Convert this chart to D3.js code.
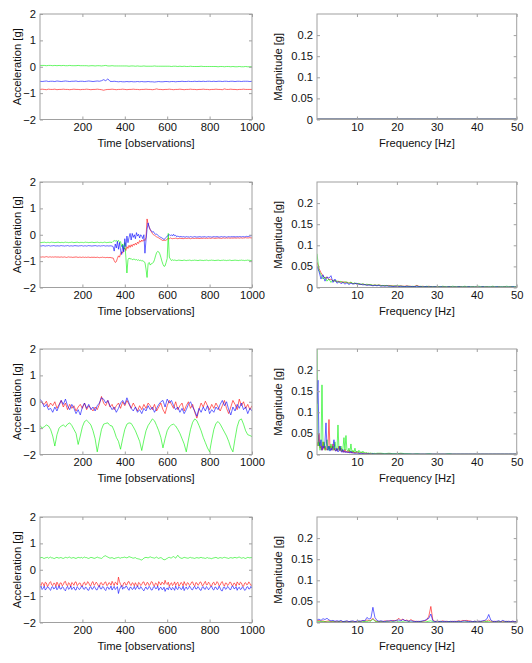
<!DOCTYPE html>
<html><head><meta charset="utf-8">
<script src="https://cdn.jsdelivr.net/npm/d3@7"></script>
<style>
body{margin:0;background:#fff}
svg{display:block}
text{font-family:"Liberation Sans",Arial,sans-serif;font-size:11.2px;fill:#111}
</style>
</head><body>
<svg id="chart" width="532" height="663"></svg>
<script>
// ---------------- DATA ----------------
const seriesColors = ["#ff0000", "#00f000", "#0000ff"]; // x, y, z axes
const timeTicks = [200, 400, 600, 800, 1000];
const accTicks = [-2, -1, 0, 1, 2];
const freqTicks = [10, 20, 30, 40, 50];
const magTicks = [0, 0.05, 0.1, 0.15, 0.2];
const timeStep = [10, 5, 10, 5]; // observations between samples, per row

// Row 1 (step 10)
const accR1 = [-0.86,-0.85,-0.86,-0.87,-0.85,-0.86,-0.86,-0.85,-0.87,-0.86,
-0.86,-0.85,-0.86,-0.86,-0.87,-0.86,-0.85,-0.86,-0.86,-0.87,
-0.86,-0.86,-0.85,-0.86,-0.87,-0.86,-0.86,-0.85,-0.86,-0.87,
-0.89,-0.87,-0.86,-0.86,-0.85,-0.86,-0.87,-0.86,-0.86,-0.85,
-0.86,-0.87,-0.86,-0.86,-0.85,-0.86,-0.86,-0.87,-0.86,-0.86,
-0.85,-0.86,-0.86,-0.87,-0.86,-0.84,-0.86,-0.86,-0.87,-0.86,
-0.86,-0.85,-0.86,-0.87,-0.86,-0.86,-0.85,-0.86,-0.87,-0.86,
-0.86,-0.85,-0.86,-0.86,-0.87,-0.86,-0.86,-0.85,-0.86,-0.86,
-0.87,-0.86,-0.86,-0.85,-0.86,-0.86,-0.87,-0.84,-0.86,-0.86,
-0.85,-0.86,-0.86,-0.87,-0.86,-0.86,-0.85,-0.86,-0.86,-0.86,-0.86];
const accG1 = [0.05,0.05,0.05,0.04,0.05,0.05,0.04,0.05,0.04,0.05,
0.04,0.05,0.04,0.04,0.05,0.04,0.04,0.04,0.05,0.04,
0.04,0.04,0.04,0.03,0.04,0.04,0.03,0.04,0.04,0.03,
0.04,0.05,0.03,0.03,0.04,0.03,0.03,0.03,0.03,0.03,
0.03,0.03,0.02,0.03,0.03,0.02,0.03,0.02,0.02,0.03,
0.02,0.02,0.02,0.02,0.03,0.02,0.02,0.02,0.02,0.02,
0.02,0.02,0.01,0.02,0.02,0.01,0.02,0.01,0.02,0.01,
0.01,0.02,0.01,0.01,0.01,0.01,0.02,0.01,0.01,0.01,
0.01,0.01,0.01,0.01,0.00,0.01,0.01,0.00,0.01,0.01,
0.00,0.01,0.00,0.00,0.01,0.00,0.00,0.01,0.00,0.00,0.00];
const accB1 = [-0.55,-0.56,-0.55,-0.54,-0.56,-0.55,-0.55,-0.56,-0.54,-0.55,
-0.56,-0.55,-0.54,-0.55,-0.56,-0.55,-0.55,-0.54,-0.56,-0.55,
-0.55,-0.56,-0.55,-0.54,-0.55,-0.56,-0.55,-0.54,-0.55,-0.53,
-0.49,-0.53,-0.46,-0.55,-0.56,-0.55,-0.56,-0.57,-0.56,-0.57,
-0.57,-0.56,-0.57,-0.56,-0.57,-0.57,-0.56,-0.57,-0.56,-0.57,
-0.57,-0.56,-0.57,-0.57,-0.58,-0.57,-0.56,-0.57,-0.57,-0.56,
-0.56,-0.57,-0.56,-0.56,-0.57,-0.56,-0.56,-0.55,-0.56,-0.56,
-0.55,-0.56,-0.56,-0.55,-0.56,-0.55,-0.56,-0.55,-0.56,-0.55,
-0.55,-0.56,-0.55,-0.56,-0.55,-0.55,-0.56,-0.55,-0.55,-0.56,
-0.55,-0.55,-0.56,-0.55,-0.55,-0.56,-0.55,-0.55,-0.55,-0.56,-0.55];

// Row 2 (step 5)
const accR2 = [-0.84,-0.85,-0.84,-0.84,-0.85,-0.84,-0.83,-0.84,-0.85,-0.84,
-0.84,-0.85,-0.84,-0.85,-0.84,-0.84,-0.85,-0.84,-0.85,-0.85,
-0.84,-0.85,-0.85,-0.84,-0.85,-0.86,-0.85,-0.84,-0.85,-0.85,
-0.85,-0.86,-0.85,-0.85,-0.84,-0.85,-0.86,-0.85,-0.85,-0.86,
-0.85,-0.85,-0.86,-0.85,-0.86,-0.85,-0.85,-0.86,-0.86,-0.85,
-0.86,-0.85,-0.86,-0.86,-0.85,-0.86,-0.87,-0.86,-0.86,-0.85,
-0.86,-0.86,-0.87,-0.86,-0.86,-0.87,-0.86,-0.87,-0.88,
-0.88,-0.98,-1.05,-1.02,-0.90,-0.80,-0.85,-0.72,-0.65,-0.70,
-0.55,-0.50,-0.60,-0.45,-0.52,-0.40,-0.48,-0.38,-0.45,-0.35,
-0.40,-0.32,-0.38,-0.28,-0.33,-0.22,-0.28,-0.20,-0.25,-0.18,
-0.22,-0.10,0.60,0.40,0.30,0.18,0.12,0.05,0.00,-0.02,
-0.05,-0.08,-0.10,-0.12,-0.15,-0.17,-0.20,-0.22,-0.20,-0.22,
-0.20,-0.18,-0.12,-0.15,-0.12,-0.14,-0.15,-0.14,
-0.14,-0.13,-0.14,-0.15,-0.14,-0.13,-0.14,-0.14,-0.15,-0.14,
-0.13,-0.14,-0.14,-0.13,-0.14,-0.15,-0.14,-0.13,-0.14,-0.14,
-0.13,-0.14,-0.13,-0.14,-0.14,-0.13,-0.14,-0.13,-0.13,-0.14,
-0.13,-0.14,-0.13,-0.13,-0.14,-0.13,-0.12,-0.13,-0.14,-0.13,
-0.13,-0.12,-0.13,-0.13,-0.14,-0.13,-0.12,-0.13,-0.13,-0.12,
-0.13,-0.12,-0.13,-0.13,-0.12,-0.13,-0.12,-0.12,-0.13,-0.12,
-0.12,-0.13,-0.12,-0.12,-0.13,-0.12,-0.12,-0.11,-0.12,-0.12,
-0.12,-0.11,-0.12,-0.12];
const accG2 = [-0.29,-0.30,-0.29,-0.29,-0.28,-0.29,-0.30,-0.29,-0.29,-0.30,
-0.29,-0.28,-0.29,-0.29,-0.30,-0.29,-0.29,-0.28,-0.29,-0.30,
-0.29,-0.29,-0.30,-0.29,-0.28,-0.29,-0.29,-0.30,-0.29,-0.29,
-0.28,-0.29,-0.30,-0.29,-0.29,-0.28,-0.29,-0.30,-0.29,-0.29,
-0.29,-0.30,-0.29,-0.28,-0.29,-0.29,-0.30,-0.29,-0.29,-0.28,
-0.29,-0.30,-0.29,-0.29,-0.28,-0.29,-0.30,-0.29,-0.29,-0.30,
-0.29,-0.28,-0.29,-0.30,-0.29,-0.29,-0.28,-0.29,-0.29,
-0.25,-0.22,-0.24,-0.22,-0.25,-0.21,-0.30,-0.26,-0.45,-0.35,
-0.55,-0.30,-0.85,-1.45,-0.95,-0.88,-0.92,-0.90,-0.95,-0.93,
-0.92,-0.96,-0.94,-0.97,-0.95,-0.98,-0.96,-1.00,-0.98,-1.02,
-1.05,-1.30,-1.62,-1.10,-1.05,-1.15,-1.10,-1.08,-1.05,-0.95,
-0.80,-0.68,-0.63,-0.65,-0.72,-0.85,-1.00,-1.12,-1.20,-1.18,
-1.05,-0.90,0.05,-0.85,-0.92,-0.98,-0.95,-0.97,
-0.96,-0.97,-0.98,-0.97,-0.96,-0.97,-0.97,-0.98,-0.97,-0.96,
-0.97,-0.98,-0.97,-0.97,-0.96,-0.97,-0.98,-0.97,-0.97,-0.96,
-0.97,-0.97,-0.98,-0.97,-0.96,-0.97,-0.97,-0.98,-0.97,-0.97,
-0.96,-0.97,-0.98,-0.97,-0.97,-0.96,-0.97,-0.97,-0.98,-0.97,
-0.97,-0.96,-0.97,-0.98,-0.97,-0.97,-0.96,-0.97,-0.97,-0.98,
-0.97,-0.97,-0.96,-0.97,-0.98,-0.97,-0.97,-0.96,-0.97,-0.97,
-0.98,-0.97,-0.97,-0.96,-0.97,-0.97,-0.98,-0.97,-0.97,-0.96,
-0.97,-0.97,-0.98,-0.97];
const accB2 = [-0.42,-0.43,-0.42,-0.41,-0.42,-0.43,-0.42,-0.42,-0.41,-0.42,
-0.43,-0.42,-0.42,-0.41,-0.42,-0.43,-0.42,-0.42,-0.43,-0.42,
-0.41,-0.42,-0.42,-0.43,-0.42,-0.42,-0.41,-0.42,-0.43,-0.42,
-0.42,-0.43,-0.42,-0.41,-0.42,-0.42,-0.43,-0.42,-0.42,-0.41,
-0.42,-0.43,-0.42,-0.42,-0.43,-0.42,-0.41,-0.42,-0.42,-0.43,
-0.42,-0.42,-0.41,-0.42,-0.43,-0.42,-0.42,-0.43,-0.42,-0.42,
-0.41,-0.42,-0.43,-0.42,-0.42,-0.43,-0.42,-0.42,-0.43,
-0.45,-0.62,-0.35,-0.50,-0.25,-0.55,-0.30,-0.60,-0.75,-0.40,
-0.65,-0.15,-0.45,-0.05,-0.30,-0.10,0.05,-0.20,0.05,-0.10,
0.00,-0.15,0.08,-0.05,0.02,-0.12,0.00,-0.05,-0.15,0.00,
-0.70,-0.20,0.20,0.45,0.28,0.20,0.15,0.10,0.12,0.05,
0.02,0.03,-0.02,-0.05,-0.08,-0.10,-0.12,-0.15,-0.18,-0.15,
-0.10,-0.05,-0.02,0.00,-0.03,0.00,-0.05,0.02,
-0.04,-0.02,-0.08,-0.05,-0.07,-0.08,-0.06,-0.09,-0.07,-0.08,
-0.09,-0.07,-0.08,-0.08,-0.09,-0.07,-0.08,-0.09,-0.08,-0.07,
-0.08,-0.09,-0.08,-0.08,-0.07,-0.09,-0.08,-0.08,-0.07,-0.08,
-0.09,-0.08,-0.07,-0.08,-0.08,-0.09,-0.08,-0.07,-0.08,-0.08,
-0.07,-0.08,-0.09,-0.08,-0.07,-0.08,-0.08,-0.07,-0.08,-0.09,
-0.08,-0.07,-0.08,-0.08,-0.07,-0.08,-0.07,-0.08,-0.08,-0.07,
-0.08,-0.07,-0.07,-0.08,-0.07,-0.07,-0.08,-0.07,-0.06,-0.07,
-0.06,-0.05,-0.04,-0.03];

// Row 3 (step 10)
const accR3 = [0.05,-0.05,-0.10,0.02,-0.20,-0.05,-0.15,0.00,-0.25,-0.10,
0.05,-0.20,-0.05,-0.30,-0.10,-0.25,-0.15,-0.35,-0.20,-0.10,
-0.25,-0.05,-0.30,-0.15,-0.25,-0.35,-0.20,-0.30,-0.10,0.20,
-0.05,-0.15,0.05,-0.20,-0.10,-0.30,-0.15,-0.05,-0.25,0.00,
-0.15,0.05,-0.10,-0.25,-0.05,-0.20,-0.35,-0.15,-0.30,-0.10,
-0.25,-0.05,-0.15,-0.30,-0.10,-0.35,-0.20,-0.05,-0.30,-0.45,
-0.15,0.05,-0.10,-0.25,0.00,-0.30,-0.15,-0.05,-0.35,-0.15,
0.00,-0.25,-0.10,-0.40,-0.62,-0.30,-0.05,-0.20,0.02,-0.15,
-0.30,-0.10,-0.25,-0.05,-0.20,-0.35,-0.15,0.05,-0.25,-0.45,
-0.20,0.05,-0.10,-0.30,0.10,-0.15,0.00,-0.25,-0.10,-0.30,-0.15];
const accG3 = [-0.90,-1.00,-0.95,-0.88,-0.92,-1.05,-1.30,-1.68,-1.25,-1.00,
-0.92,-0.88,-0.95,-0.85,-0.80,-0.90,-1.05,-1.20,-1.62,-1.30,
-0.95,-0.75,-0.70,-0.78,-0.88,-1.10,-1.40,-1.90,-1.45,-1.05,
-0.85,-0.82,-0.80,-0.90,-0.92,-1.10,-1.35,-1.50,-1.80,-1.40,
-1.05,-0.85,-0.80,-0.82,-0.95,-1.10,-1.30,-1.50,-1.85,-1.45,
-1.10,-0.90,-0.78,-0.65,-0.72,-0.90,-1.10,-1.35,-1.75,-1.40,
-1.10,-0.95,-0.88,-0.85,-0.92,-1.05,-1.20,-1.40,-1.60,-1.90,
-1.45,-1.05,-0.78,-0.65,-0.72,-0.90,-1.10,-1.35,-1.55,-1.75,
-1.90,-1.45,-1.05,-0.82,-0.75,-0.85,-1.00,-1.15,-1.30,-1.50,
-1.75,-1.90,-1.40,-0.95,-0.70,-0.65,-0.85,-1.10,-1.25,-1.28,-1.32];
const accB3 = [0.10,0.00,-0.20,-0.10,-0.30,-0.25,-0.40,-0.20,-0.35,-0.15,
0.05,-0.10,0.10,-0.15,-0.30,-0.10,-0.25,-0.45,-0.30,-0.50,
-0.20,-0.05,-0.25,-0.10,-0.30,-0.20,-0.35,-0.15,-0.05,0.15,
0.10,-0.05,0.05,-0.15,-0.30,-0.20,-0.40,-0.25,-0.05,0.05,
-0.10,0.15,-0.05,-0.25,-0.35,-0.20,-0.40,-0.30,-0.45,-0.25,
-0.35,-0.15,-0.30,-0.20,-0.40,-0.25,-0.10,0.00,0.05,-0.20,
0.10,-0.05,0.05,-0.15,-0.30,-0.20,-0.40,-0.25,-0.45,-0.30,
-0.10,0.00,-0.20,-0.35,-0.55,-0.25,-0.40,-0.20,-0.35,-0.15,
-0.45,-0.30,-0.40,-0.20,-0.30,-0.10,0.05,-0.15,0.00,-0.30,
-0.50,-0.20,-0.35,-0.10,-0.25,-0.05,-0.30,-0.20,-0.45,-0.25,-0.35];

// Row 4 (step 5)
const accR4 = [-0.55,-0.60,-0.48,-0.53,-0.62,-0.47,-0.50,-0.64,-0.58,-0.49,-0.45,-0.57,-0.60,-0.51,-0.52,-0.63,-0.47,-0.55,-0.63,-0.50,
-0.50,-0.61,-0.56,-0.46,-0.44,-0.58,-0.61,-0.49,-0.53,-0.64,-0.48,-0.52,-0.59,-0.47,-0.46,-0.60,-0.57,-0.50,-0.51,-0.62,
-0.62,-0.50,-0.47,-0.58,-0.55,-0.45,-0.50,-0.60,-0.60,-0.48,-0.45,-0.59,-0.56,-0.47,-0.52,-0.61,-0.64,-0.50,-0.49,-0.58,
-0.57,-0.48,-0.46,-0.60,-0.58,-0.49,-0.51,-0.59,-0.44,-0.52,-0.60,-0.47,-0.50,-0.58,-0.28,-0.45,-0.55,-0.63,-0.62,-0.50,
-0.48,-0.58,-0.57,-0.46,-0.45,-0.56,-0.60,-0.49,-0.52,-0.61,-0.49,-0.57,-0.63,-0.48,-0.51,-0.60,-0.56,-0.47,-0.46,-0.58,
-0.59,-0.48,-0.50,-0.60,-0.55,-0.45,-0.47,-0.59,-0.61,-0.50,-0.53,-0.62,-0.45,-0.51,-0.58,-0.47,-0.50,-0.56,-0.40,-0.52,
-0.56,-0.47,-0.63,-0.54,-0.49,-0.60,-0.55,-0.46,-0.60,-0.51,-0.47,-0.62,-0.57,-0.48,-0.52,-0.61,-0.45,-0.55,-0.60,-0.49,
-0.51,-0.60,-0.56,-0.47,-0.46,-0.58,-0.62,-0.49,-0.50,-0.59,-0.55,-0.46,-0.48,-0.60,-0.59,-0.50,-0.44,-0.57,-0.56,-0.47,
-0.52,-0.63,-0.61,-0.50,-0.47,-0.58,-0.55,-0.45,-0.50,-0.61,-0.58,-0.48,-0.45,-0.57,-0.62,-0.50,-0.51,-0.60,-0.56,-0.47,
-0.48,-0.59,-0.60,-0.50,-0.53,-0.62,-0.46,-0.52,-0.58,-0.47,-0.50,-0.61,-0.63,-0.51,-0.49,-0.57,-0.55,-0.46,-0.52,-0.60,
-0.57];
const accG4 = [0.45,0.46,0.47,0.44,0.43,0.45,0.46,0.47,0.44,0.46,0.48,0.45,0.45,0.43,0.43,0.46,0.47,0.45,0.44,0.46,
0.46,0.44,0.43,0.45,0.47,0.46,0.45,0.47,0.48,0.45,0.44,0.46,0.46,0.44,0.43,0.45,0.47,0.46,0.45,0.47,
0.44,0.46,0.48,0.46,0.46,0.44,0.43,0.45,0.47,0.46,0.45,0.43,0.44,0.46,0.48,0.46,0.45,0.44,0.43,0.46,
0.50,0.52,0.53,0.50,0.48,0.46,0.44,0.45,0.46,0.44,0.42,0.44,0.45,0.46,0.47,0.45,0.44,0.46,0.46,0.47,
0.48,0.46,0.45,0.47,0.50,0.48,0.47,0.45,0.44,0.45,0.46,0.43,0.42,0.41,0.40,0.38,0.37,0.40,0.44,0.46,
0.47,0.46,0.45,0.47,0.49,0.47,0.46,0.45,0.44,0.46,0.48,0.45,0.43,0.45,0.46,0.44,0.40,0.38,0.38,0.41,
0.43,0.46,0.47,0.45,0.45,0.48,0.50,0.47,0.44,0.50,0.55,0.49,0.46,0.44,0.43,0.45,0.47,0.46,0.45,0.44,
0.44,0.46,0.47,0.45,0.45,0.44,0.43,0.45,0.46,0.45,0.44,0.46,0.47,0.45,0.45,0.44,0.43,0.45,0.46,0.44,
0.44,0.43,0.42,0.44,0.45,0.46,0.47,0.45,0.43,0.45,0.46,0.45,0.44,0.46,0.47,0.46,0.45,0.44,0.43,0.45,
0.46,0.45,0.44,0.46,0.47,0.45,0.45,0.47,0.48,0.46,0.44,0.45,0.46,0.44,0.43,0.45,0.47,0.46,0.45,0.46,
0.46];
const accB4 = [-0.68,-0.62,-0.75,-0.70,-0.62,-0.77,-0.72,-0.65,-0.66,-0.74,-0.78,-0.66,-0.64,-0.73,-0.70,-0.63,-0.76,-0.70,-0.61,-0.73,
-0.73,-0.64,-0.67,-0.76,-0.80,-0.68,-0.63,-0.74,-0.71,-0.62,-0.75,-0.70,-0.65,-0.76,-0.77,-0.64,-0.68,-0.75,-0.72,-0.63,
-0.62,-0.73,-0.74,-0.65,-0.69,-0.77,-0.78,-0.66,-0.64,-0.74,-0.72,-0.63,-0.67,-0.76,-0.76,-0.65,-0.60,-0.72,-0.73,-0.64,
-0.66,-0.75,-0.79,-0.67,-0.65,-0.74,-0.71,-0.62,-0.77,-0.69,-0.63,-0.75,-0.70,-0.64,-0.90,-0.74,-0.66,-0.60,-0.74,-0.66,
-0.70,-0.62,-0.64,-0.73,-0.78,-0.66,-0.67,-0.75,-0.72,-0.63,-0.75,-0.68,-0.61,-0.72,-0.73,-0.64,-0.69,-0.76,-0.80,-0.70,
-0.65,-0.74,-0.72,-0.63,-0.68,-0.77,-0.76,-0.65,-0.63,-0.72,-0.71,-0.62,-0.78,-0.70,-0.66,-0.75,-0.74,-0.66,-0.82,-0.72,
-0.69,-0.76,-0.64,-0.70,-0.77,-0.67,-0.70,-0.78,-0.62,-0.72,-0.75,-0.64,-0.68,-0.75,-0.73,-0.62,-0.79,-0.70,-0.65,-0.74,
-0.71,-0.62,-0.67,-0.75,-0.76,-0.66,-0.63,-0.73,-0.72,-0.64,-0.69,-0.77,-0.78,-0.66,-0.64,-0.73,-0.74,-0.64,-0.68,-0.76,
-0.71,-0.64,-0.63,-0.74,-0.77,-0.66,-0.66,-0.75,-0.73,-0.62,-0.70,-0.79,-0.80,-0.67,-0.65,-0.74,-0.72,-0.63,-0.67,-0.75,
-0.75,-0.63,-0.62,-0.72,-0.71,-0.64,-0.78,-0.69,-0.66,-0.75,-0.73,-0.64,-0.69,-0.78,-0.76,-0.66,-0.64,-0.73,-0.72,-0.63,
-0.70];

// Spectra. Frequency grids (Hz) of the sampled magnitudes
const fftFreq1 = [0,5,10,15,20,25,30,35,40,45,50];
const fftFreq2 = d3.range(101).map(i => i * 0.5);
const fftFreq3 = d3.range(61).map(i => i * 0.25).concat(d3.range(16, 51));
const fftFreq4 = d3.range(101).map(i => i * 0.5);

const fftR1 = [0.001,0.001,0.001,0.001,0.001,0.001,0.001,0.001,0.001,0.001,0.001];
const fftG1 = [0.001,0.001,0.001,0.001,0.001,0.001,0.001,0.001,0.001,0.001,0.001];
const fftB1 = [0.001,0.001,0.001,0.001,0.001,0.001,0.001,0.001,0.001,0.001,0.001];

const fftR2 = [0.060,0.045,0.035,0.028,0.022,0.025,0.018,0.020,0.015,0.017,
0.013,0.015,0.012,0.014,0.011,0.013,0.010,0.012,0.009,0.010,
0.008,0.009,0.007,0.008,0.007,0.006,0.007,0.006,0.005,0.006,
0.005,0.006,0.005,0.004,0.005,0.004,0.005,0.004,0.004,0.003,
0.004,0.003,0.004,0.003,0.003,0.004,0.003,0.003,0.002,0.003,
0.005,0.003,0.002,0.003,0.002,0.002,0.003,0.002,0.002,0.002,
0.002,0.002,0.001,0.002,0.002,0.001,0.002,0.002,0.001,0.002,
0.001,0.002,0.002,0.001,0.002,0.001,0.002,0.001,0.002,0.001,
0.002,0.001,0.001,0.002,0.001,0.002,0.001,0.001,0.002,0.001,
0.001,0.002,0.001,0.001,0.002,0.001,0.001,0.002,0.001,0.001,0.001];
const fftG2 = [0.080,0.040,0.030,0.020,0.025,0.015,0.020,0.012,0.018,0.014,
0.016,0.012,0.015,0.011,0.014,0.012,0.010,0.013,0.009,0.011,
0.008,0.010,0.007,0.009,0.006,0.008,0.006,0.007,0.005,0.006,
0.005,0.006,0.004,0.005,0.004,0.005,0.003,0.004,0.003,0.004,
0.003,0.004,0.003,0.003,0.002,0.003,0.003,0.002,0.003,0.002,
0.004,0.002,0.003,0.002,0.002,0.003,0.002,0.002,0.002,0.002,
0.002,0.002,0.002,0.003,0.002,0.002,0.002,0.002,0.003,0.002,
0.002,0.002,0.002,0.002,0.003,0.002,0.002,0.002,0.002,0.002,
0.002,0.003,0.002,0.002,0.002,0.002,0.002,0.002,0.003,0.002,
0.002,0.002,0.002,0.002,0.002,0.003,0.002,0.002,0.002,0.002,0.002];
const fftB2 = [0.050,0.038,0.020,0.030,0.015,0.025,0.022,0.028,0.012,0.020,
0.010,0.014,0.009,0.012,0.008,0.011,0.007,0.010,0.008,0.009,
0.010,0.007,0.008,0.006,0.007,0.005,0.006,0.005,0.004,0.005,
0.004,0.005,0.003,0.004,0.003,0.004,0.003,0.003,0.002,0.003,
0.003,0.002,0.003,0.002,0.002,0.003,0.002,0.002,0.002,0.002,
0.003,0.002,0.002,0.001,0.002,0.002,0.001,0.002,0.001,0.002,
0.001,0.001,0.002,0.001,0.001,0.001,0.002,0.001,0.001,0.001,
0.001,0.002,0.001,0.001,0.001,0.001,0.002,0.001,0.001,0.001,
0.001,0.001,0.001,0.002,0.001,0.001,0.001,0.001,0.001,0.001,
0.002,0.001,0.001,0.001,0.001,0.001,0.001,0.001,0.002,0.001,0.001];

const fftR3 = [0.030,0.020,0.050,0.015,0.020,0.010,0.030,0.012,0.020,0.010,
0.015,0.020,0.083,0.015,0.020,0.010,0.025,0.010,0.015,0.008,
0.012,0.010,0.020,0.008,0.015,0.006,0.010,0.005,0.012,0.005,
0.008,0.004,0.010,0.004,0.007,0.003,0.008,0.003,0.006,0.003,
0.007,0.003,0.005,0.002,0.005,0.002,0.004,0.002,0.004,0.002,
0.003,0.002,0.003,0.001,0.003,0.001,0.002,0.001,0.002,0.001,0.002,
0.002,0.001,0.002,0.001,0.001,0.002,0.001,0.001,0.001,0.001,
0.001,0.001,0.001,0.001,0.001,0.001,0.001,0.001,0.001,0.001,
0.001,0.001,0.001,0.001,0.001,0.001,0.001,0.001,0.001,0.001,
0.001,0.001,0.001,0.001,0.001];
const fftG3 = [0.260,0.020,0.030,0.010,0.020,0.165,0.020,0.030,0.010,0.020,
0.035,0.010,0.020,0.010,0.025,0.015,0.020,0.010,0.030,0.015,
0.010,0.070,0.012,0.010,0.020,0.008,0.015,0.040,0.010,0.045,
0.010,0.008,0.015,0.006,0.025,0.006,0.010,0.005,0.015,0.005,
0.008,0.004,0.010,0.004,0.007,0.003,0.008,0.003,0.005,0.003,
0.005,0.002,0.004,0.002,0.004,0.002,0.003,0.002,0.003,0.002,0.003,
0.003,0.002,0.003,0.002,0.002,0.003,0.002,0.002,0.001,0.002,
0.001,0.001,0.002,0.001,0.001,0.001,0.001,0.002,0.001,0.001,
0.001,0.001,0.001,0.001,0.001,0.001,0.001,0.001,0.001,0.001,
0.001,0.001,0.001,0.001,0.001];
const fftB3 = [0.120,0.176,0.030,0.020,0.035,0.010,0.020,0.015,0.030,0.075,
0.015,0.010,0.020,0.008,0.015,0.010,0.020,0.035,0.010,0.008,
0.015,0.006,0.010,0.020,0.008,0.005,0.012,0.005,0.008,0.004,
0.007,0.004,0.006,0.003,0.008,0.003,0.005,0.002,0.004,0.002,
0.004,0.002,0.003,0.002,0.003,0.001,0.003,0.001,0.002,0.001,
0.002,0.001,0.002,0.001,0.001,0.001,0.002,0.001,0.001,0.001,0.001,
0.001,0.001,0.001,0.001,0.001,0.001,0.001,0.001,0.001,0.001,
0.001,0.001,0.001,0.001,0.001,0.001,0.001,0.001,0.001,0.001,
0.001,0.001,0.001,0.001,0.001,0.001,0.001,0.001,0.001,0.001,
0.001,0.001,0.001,0.001,0.001];

const fftR4 = [0.004,0.005,0.003,0.004,0.002,0.003,0.004,0.002,0.003,0.002,
0.003,0.002,0.003,0.002,0.002,0.003,0.002,0.003,0.002,0.002,
0.003,0.002,0.003,0.004,0.003,0.006,0.004,0.005,0.010,0.004,
0.003,0.002,0.003,0.002,0.004,0.003,0.004,0.003,0.005,0.004,
0.006,0.010,0.005,0.008,0.004,0.006,0.003,0.007,0.004,0.003,
0.002,0.003,0.002,0.003,0.004,0.006,0.015,0.038,0.006,0.003,
0.002,0.003,0.002,0.004,0.002,0.003,0.002,0.002,0.003,0.002,
0.003,0.004,0.003,0.005,0.004,0.005,0.004,0.003,0.002,0.003,
0.002,0.003,0.002,0.003,0.004,0.003,0.006,0.003,0.002,0.003,
0.002,0.003,0.002,0.003,0.002,0.003,0.002,0.002,0.003,0.002,0.002];
const fftG4 = [0.003,0.002,0.003,0.002,0.002,0.001,0.002,0.001,0.002,0.001,
0.001,0.002,0.001,0.001,0.002,0.001,0.001,0.002,0.001,0.001,
0.001,0.002,0.001,0.002,0.003,0.002,0.004,0.003,0.008,0.003,
0.002,0.001,0.002,0.001,0.001,0.002,0.001,0.001,0.002,0.001,
0.001,0.002,0.001,0.002,0.001,0.001,0.002,0.001,0.001,0.001,
0.001,0.001,0.002,0.001,0.001,0.002,0.003,0.004,0.002,0.001,
0.001,0.001,0.002,0.001,0.001,0.001,0.002,0.001,0.001,0.001,
0.001,0.002,0.001,0.001,0.001,0.002,0.001,0.001,0.001,0.002,
0.001,0.001,0.002,0.001,0.002,0.003,0.002,0.001,0.001,0.001,
0.001,0.002,0.001,0.001,0.001,0.002,0.001,0.001,0.001,0.001,0.001];
const fftB4 = [0.006,0.008,0.005,0.009,0.007,0.010,0.006,0.004,0.005,0.003,
0.004,0.003,0.005,0.002,0.003,0.004,0.002,0.003,0.004,0.002,
0.003,0.004,0.003,0.005,0.004,0.012,0.008,0.010,0.036,0.012,
0.005,0.003,0.004,0.003,0.002,0.004,0.003,0.005,0.003,0.004,
0.005,0.006,0.004,0.007,0.005,0.004,0.003,0.004,0.003,0.002,
0.003,0.002,0.003,0.004,0.005,0.008,0.010,0.020,0.004,0.002,
0.003,0.002,0.003,0.002,0.003,0.002,0.002,0.003,0.002,0.003,
0.002,0.003,0.002,0.003,0.004,0.003,0.002,0.003,0.002,0.003,
0.002,0.003,0.003,0.004,0.005,0.008,0.019,0.006,0.003,0.002,
0.003,0.004,0.002,0.005,0.003,0.002,0.003,0.002,0.003,0.002,0.002];

// ---------------- TABLES built from the arrays ----------------
const rows = [
  {acc: [accR1, accG1, accB1], freq: fftFreq1, fft: [fftR1, fftG1, fftB1]},
  {acc: [accR2, accG2, accB2], freq: fftFreq2, fft: [fftR2, fftG2, fftB2]},
  {acc: [accR3, accG3, accB3], freq: fftFreq3, fft: [fftR3, fftG3, fftB3]},
  {acc: [accR4, accG4, accB4], freq: fftFreq4, fft: [fftR4, fftG4, fftB4]}
];

// ---------------- LAYOUT ----------------
const rowTops = [14, 182, 349, 517];
const plotH = 105.5;
const leftX = [40, 252];
const rightX = [317, 516.7];
const boxColor = "#a0a0a0";

const svg = d3.select("#chart");

function panel(g, id, xs, ys, xTicks, yTicks, yFmt, xLabel, yLabel, yLabelX, series) {
  const [x0, x1] = xs.range();
  const [yb, yt] = ys.range();
  svg.append("clipPath").attr("id", id).append("rect")
    .attr("x", x0).attr("y", yt).attr("width", x1 - x0).attr("height", yb - yt);

  const lines = g.append("g").attr("clip-path", `url(#${id})`);
  const line = d3.line().x(d => xs(d[0])).y(d => ys(d[1]));
  series.forEach((s, i) => {
    lines.append("path").datum(s)
      .attr("d", line)
      .attr("fill", "none")
      .attr("stroke", seriesColors[i])
      .attr("stroke-width", 0.6)
      .attr("stroke-linejoin", "round");
  });

  const styleAxis = a => {
    a.select(".domain").remove();
    a.selectAll(".tick line").attr("stroke", boxColor);
    a.selectAll(".tick text").attr("fill", "#111");
    a.attr("font-size", null).attr("font-family", null);
  };
  g.append("g").attr("transform", `translate(0,${yb})`)
    .call(d3.axisBottom(xs).tickValues(xTicks).tickSizeInner(-3).tickSizeOuter(0).tickPadding(4).tickFormat(d3.format("d")))
    .call(styleAxis);
  g.append("g").attr("transform", `translate(0,${yt})`)
    .call(d3.axisTop(xs).tickValues(xTicks).tickSizeInner(-3).tickSizeOuter(0).tickFormat(""))
    .call(styleAxis);
  g.append("g").attr("transform", `translate(${x0},0)`)
    .call(d3.axisLeft(ys).tickValues(yTicks).tickSizeInner(-3).tickSizeOuter(0).tickPadding(4).tickFormat(yFmt))
    .call(styleAxis);
  g.append("g").attr("transform", `translate(${x1},0)`)
    .call(d3.axisRight(ys).tickValues(yTicks).tickSizeInner(-3).tickSizeOuter(0).tickFormat(""))
    .call(styleAxis);

  g.append("rect").attr("x", x0).attr("y", yt).attr("width", x1 - x0).attr("height", yb - yt)
    .attr("fill", "none").attr("stroke", boxColor).attr("stroke-width", 1);

  g.append("text").attr("x", (x0 + x1) / 2).attr("y", yb + 27)
    .attr("text-anchor", "middle").text(xLabel);
  g.append("text").attr("transform", `translate(${yLabelX},${(yt + yb) / 2}) rotate(-90)`)
    .attr("text-anchor", "middle").text(yLabel);
}

rows.forEach((row, r) => {
  const top = rowTops[r];
  const bottom = top + plotH;

  // time-domain panel
  const xt = d3.scaleLinear().domain([0, 1000]).range(leftX);
  const ya = d3.scaleLinear().domain([-2, 2]).range([bottom, top]);
  const accSeries = row.acc.map(vals => vals.map((v, i) => [i * timeStep[r], v]));
  panel(svg.append("g"), "clipT" + r, xt, ya, timeTicks, accTicks, d3.format("d"),
        "Time [observations]", "Acceleration [g]", 20.5, accSeries);

  // frequency-domain panel
  const xf = d3.scaleLinear().domain([0, 50]).range(rightX);
  const ym = d3.scaleLinear().domain([0, 0.25]).range([bottom, top]);
  const fftSeries = row.fft.map(vals => vals.slice(0, row.freq.length).map((v, i) => [row.freq[i], v]));
  panel(svg.append("g"), "clipF" + r, xf, ym, freqTicks, magTicks, d => String(d),
        "Frequency [Hz]", "Magnitude [g]", 281.5, fftSeries);
});
</script>
</body></html>
